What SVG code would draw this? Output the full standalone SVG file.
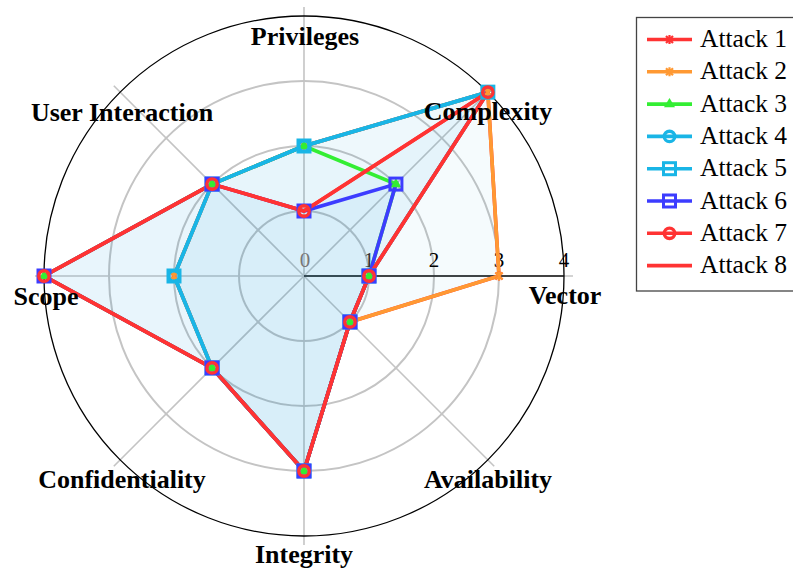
<svg xmlns="http://www.w3.org/2000/svg" xmlns:xlink="http://www.w3.org/1999/xlink" width="793" height="570" viewBox="0 0 793 570">
<style>
.grid{fill:none;stroke:#c4c4c4;stroke-width:2}
.axis{stroke:#c4c4c4;stroke-width:1.6}
.outer{fill:none;stroke:#000;stroke-width:1.3}
.fl{fill:#0a96d6;stroke:none}
.ln{fill:none;stroke-width:3.6;stroke-linejoin:miter}
.r{stroke:#ff3333;fill:none}
.o{stroke:#ff9933;fill:none}
.g{stroke:#33ee33;fill:none}
.c{stroke:#19b5e6;fill:none}
.b{stroke:#3c3cff;fill:none}
.lab{font-family:"Liberation Serif","Times New Roman",serif;font-weight:bold;font-size:26px;text-anchor:middle;fill:#000}
.tick{font-family:"Liberation Serif","Times New Roman",serif;font-size:21px;text-anchor:middle;fill:#000}
.leg{font-family:"Liberation Serif","Times New Roman",serif;font-size:25.5px;fill:#000}
</style>
<defs>
<g id="mstar"><path d="M-3.5,-3.5 L3.5,3.5 M-3.5,3.5 L3.5,-3.5 M0,-4.5 L0,4.5" stroke-width="2.2"/></g>
<g id="mtri"><polygon points="0,-6 5.5,3.2 -5.5,3.2" fill="#33ee33" stroke="none"/></g>
<g id="mcirc"><circle r="5.2" fill="none" stroke-width="3.4"/></g>
<g id="msq"><rect x="-6" y="-6" width="12" height="12" fill="none" stroke-width="3"/></g>
</defs>

<g id="grid">
<circle class="grid" cx="304" cy="276" r="65"/>
<circle class="grid" cx="304" cy="276" r="130"/>
<circle class="grid" cx="304" cy="276" r="195"/>
<line class="axis" x1="304" y1="276" x2="573" y2="276"/>
<line class="axis" x1="304" y1="276" x2="494.2" y2="85.8"/>
<line class="axis" x1="304" y1="276" x2="304" y2="7"/>
<line class="axis" x1="304" y1="276" x2="113.8" y2="85.8"/>
<line class="axis" x1="304" y1="276" x2="35" y2="276"/>
<line class="axis" x1="304" y1="276" x2="113.8" y2="466.2"/>
<line class="axis" x1="304" y1="276" x2="304" y2="545"/>
<line class="axis" x1="304" y1="276" x2="494.2" y2="466.2"/>
<circle class="outer" cx="304" cy="276" r="260"/>
<line x1="304" y1="276" x2="564" y2="276" stroke="#111" stroke-width="1.5"/>
</g>

<g id="fills">
<polygon class="fl" fill-opacity="0.04" points="499,276 487.85,92.15 304,146 212.08,184.08 174,276 212.08,367.92 304,471 349.96,321.96"/>
<polygon class="fl" fill-opacity="0.026" points="369,276 395.92,184.08 304,146 212.08,184.08 44,276 212.08,367.92 304,471 349.96,321.96"/>
<polygon class="fl" fill-opacity="0.026" points="369,276 487.85,92.15 304,146 212.08,184.08 174,276 212.08,367.92 304,471 349.96,321.96"/>
<polygon class="fl" fill-opacity="0.026" points="369,276 395.92,184.08 304,211 212.08,184.08 44,276 212.08,367.92 304,471 349.96,321.96"/>
<polygon class="fl" fill-opacity="0.036" points="369,276 487.85,92.15 304,211 212.08,184.08 44,276 212.08,367.92 304,471 349.96,321.96"/>
</g>

<g id="ticks">
<text class="tick" x="305" y="267" style="fill:#777">0</text>
<text class="tick" x="369" y="267" style="fill:#333">1</text>
<text class="tick" x="434" y="267">2</text>
<text class="tick" x="499" y="267">3</text>
<text class="tick" x="564" y="267">4</text>
</g>

<g id="connectors">
<polygon id="line-attack1" class="ln r" points="499,276 487.85,92.15 304,146 212.08,184.08 174,276 212.08,367.92 304,471 349.96,321.96"/>
<polygon id="line-attack2" class="ln o" points="499,276 487.85,92.15 304,146 212.08,184.08 174,276 212.08,367.92 304,471 349.96,321.96"/>
<polygon id="line-attack3" class="ln g" points="369,276 395.92,184.08 304,146 212.08,184.08 44,276 212.08,367.92 304,471 349.96,321.96"/>
<polygon id="line-attack4" class="ln c" points="369,276 487.85,92.15 304,146 212.08,184.08 174,276 212.08,367.92 304,471 349.96,321.96"/>
<polygon id="line-attack5" class="ln c" points="369,276 487.85,92.15 304,146 212.08,184.08 174,276 212.08,367.92 304,471 349.96,321.96"/>
<polygon id="line-attack6" class="ln b" points="369,276 395.92,184.08 304,211 212.08,184.08 44,276 212.08,367.92 304,471 349.96,321.96"/>
<polygon id="line-attack7" class="ln r" points="369,276 487.85,92.15 304,211 212.08,184.08 44,276 212.08,367.92 304,471 349.96,321.96"/>
<polygon id="line-attack8" class="ln r" points="369,276 487.85,92.15 304,211 212.08,184.08 44,276 212.08,367.92 304,471 349.96,321.96"/>
</g>

<g id="markers-attack1" class="r">
<use href="#mstar" x="499" y="276"/><use href="#mstar" x="487.85" y="92.15"/><use href="#mstar" x="304" y="146"/><use href="#mstar" x="212.08" y="184.08"/><use href="#mstar" x="174" y="276"/><use href="#mstar" x="212.08" y="367.92"/><use href="#mstar" x="304" y="471"/><use href="#mstar" x="349.96" y="321.96"/>
</g>
<g id="markers-attack2" class="o">
<use href="#mstar" x="499" y="276"/><use href="#mstar" x="487.85" y="92.15"/><use href="#mstar" x="304" y="146"/><use href="#mstar" x="212.08" y="184.08"/><use href="#mstar" x="174" y="276"/><use href="#mstar" x="212.08" y="367.92"/><use href="#mstar" x="304" y="471"/><use href="#mstar" x="349.96" y="321.96"/>
</g>
<g id="markers-attack3">
<use href="#mtri" x="369" y="276"/><use href="#mtri" x="395.92" y="184.08"/><use href="#mtri" x="304" y="146"/><use href="#mtri" x="212.08" y="184.08"/><use href="#mtri" x="44" y="276"/><use href="#mtri" x="212.08" y="367.92"/><use href="#mtri" x="304" y="471"/><use href="#mtri" x="349.96" y="321.96"/>
</g>
<g id="markers-attack4" class="c">
<use href="#mcirc" x="369" y="276"/><use href="#mcirc" x="487.85" y="92.15"/><use href="#mcirc" x="304" y="146"/><use href="#mcirc" x="212.08" y="184.08"/><use href="#mcirc" x="174" y="276"/><use href="#mcirc" x="212.08" y="367.92"/><use href="#mcirc" x="304" y="471"/><use href="#mcirc" x="349.96" y="321.96"/>
</g>
<g id="markers-attack5" class="c">
<use href="#msq" x="369" y="276"/><use href="#msq" x="487.85" y="92.15"/><use href="#msq" x="304" y="146"/><use href="#msq" x="212.08" y="184.08"/><use href="#msq" x="174" y="276"/><use href="#msq" x="212.08" y="367.92"/><use href="#msq" x="304" y="471"/><use href="#msq" x="349.96" y="321.96"/>
</g>
<g id="markers-attack6" class="b">
<use href="#msq" x="369" y="276"/><use href="#msq" x="395.92" y="184.08"/><use href="#msq" x="304" y="211"/><use href="#msq" x="212.08" y="184.08"/><use href="#msq" x="44" y="276"/><use href="#msq" x="212.08" y="367.92"/><use href="#msq" x="304" y="471"/><use href="#msq" x="349.96" y="321.96"/>
</g>
<g id="markers-attack7" class="r">
<use href="#mcirc" x="369" y="276"/><use href="#mcirc" x="487.85" y="92.15"/><use href="#mcirc" x="304" y="211"/><use href="#mcirc" x="212.08" y="184.08"/><use href="#mcirc" x="44" y="276"/><use href="#mcirc" x="212.08" y="367.92"/><use href="#mcirc" x="304" y="471"/><use href="#mcirc" x="349.96" y="321.96"/>
</g>

<g id="axis-labels">
<text class="lab" x="565" y="304">Vector</text>
<text class="lab" x="488" y="120">Complexity</text>
<text class="lab" x="305" y="45">Privileges</text>
<text class="lab" x="122" y="121">User Interaction</text>
<text class="lab" x="46" y="305">Scope</text>
<text class="lab" x="122" y="488">Confidentiality</text>
<text class="lab" x="304" y="563">Integrity</text>
<text class="lab" x="488" y="488">Availability</text>
</g>

<g id="legend">
<rect x="636.5" y="17.5" width="170" height="273.5" fill="#fff" stroke="#444" stroke-width="1.3"/>
<g id="leg1" class="r"><line class="ln" x1="647" y1="39.5" x2="692" y2="39.5"/><use href="#mstar" x="669.5" y="39.5"/><text class="leg" x="700" y="47" stroke="none">Attack 1</text></g>
<g id="leg2" class="o"><line class="ln" x1="647" y1="71.8" x2="692" y2="71.8"/><use href="#mstar" x="669.5" y="71.8"/><text class="leg" x="700" y="79.3" stroke="none">Attack 2</text></g>
<g id="leg3" class="g"><line class="ln" x1="647" y1="104.1" x2="692" y2="104.1"/><use href="#mtri" x="669.5" y="104.1"/><text class="leg" x="700" y="111.6" stroke="none">Attack 3</text></g>
<g id="leg4" class="c"><line class="ln" x1="647" y1="136.4" x2="692" y2="136.4"/><use href="#mcirc" x="669.5" y="136.4"/><text class="leg" x="700" y="143.9" stroke="none">Attack 4</text></g>
<g id="leg5" class="c"><line class="ln" x1="647" y1="168.7" x2="692" y2="168.7"/><use href="#msq" x="669.5" y="168.7"/><text class="leg" x="700" y="176.2" stroke="none">Attack 5</text></g>
<g id="leg6" class="b"><line class="ln" x1="647" y1="201" x2="692" y2="201"/><use href="#msq" x="669.5" y="201"/><text class="leg" x="700" y="208.5" stroke="none">Attack 6</text></g>
<g id="leg7" class="r"><line class="ln" x1="647" y1="233.3" x2="692" y2="233.3"/><use href="#mcirc" x="669.5" y="233.3"/><text class="leg" x="700" y="240.8" stroke="none">Attack 7</text></g>
<g id="leg8" class="r"><line class="ln" x1="647" y1="265.6" x2="692" y2="265.6"/><text class="leg" x="700" y="273.1" stroke="none">Attack 8</text></g>
</g>
</svg>
